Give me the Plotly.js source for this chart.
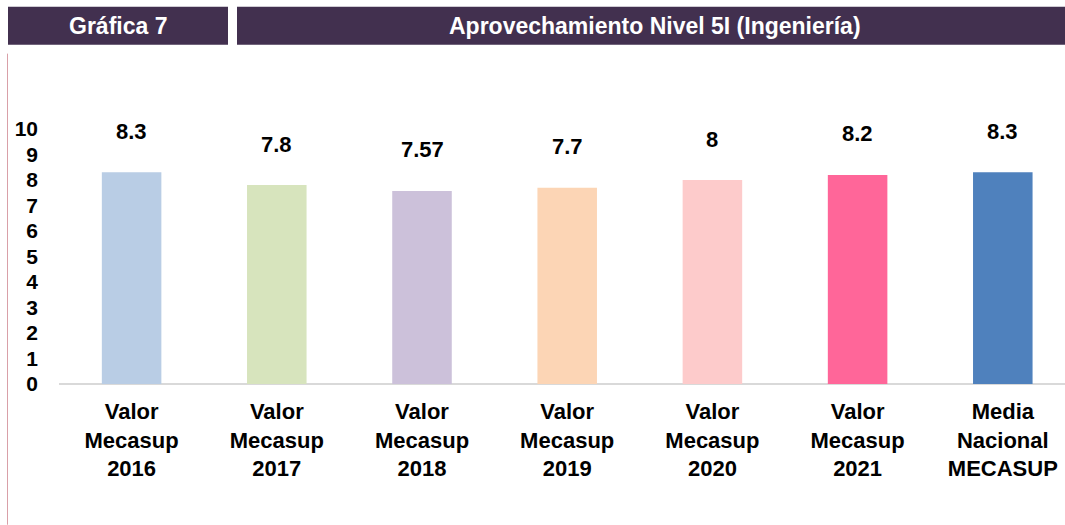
<!DOCTYPE html>
<html>
<head>
<meta charset="utf-8">
<script src="https://cdn.plot.ly/plotly-3.0.1.min.js"></script>
<style>html,body{margin:0;padding:0;background:#fff;}#chart{width:1065px;height:525px;}</style>
</head>
<body>
<div id="chart"></div>
<script>
const categories = ["Valor<br>Mecasup<br>2016","Valor<br>Mecasup<br>2017","Valor<br>Mecasup<br>2018","Valor<br>Mecasup<br>2019","Valor<br>Mecasup<br>2020","Valor<br>Mecasup<br>2021","Media<br>Nacional<br>MECASUP"];
const values = [8.3, 7.8, 7.57, 7.7, 8, 8.2, 8.3];
const valueLabels = ["8.3","7.8","7.57","7.7","8","8.2","8.3"];
const barColors = ["#b9cde5","#d7e4bd","#ccc1da","#fcd5b5","#fdcbcb","#ff6699","#4f81bd"];
const yTicks = [0,1,2,3,4,5,6,7,8,9,10];
const headerLeft = "Gráfica 7";
const headerRight = "Aprovechamiento Nivel 5I (Ingeniería)";

const W = 1065, H = 525;
const M = {l: 59, r: 0, t: 128.5, b: 141};
const pw = W - M.l - M.r, ph = H - M.t - M.b;
const px = x => (x - M.l) / pw;
const py = y => (H - M.b - y) / ph;

const xIdx = categories.map((_, i) => i);
const font = "Liberation Sans, Arial, sans-serif";
const hdr = "#42304f";

const shapes = [
  {type:"rect", xref:"paper", yref:"paper", x0:px(8), x1:px(228), y0:py(44), y1:py(6), fillcolor:hdr, line:{width:0}, layer:"below"},
  {type:"rect", xref:"paper", yref:"paper", x0:px(237), x1:px(1065), y0:py(44), y1:py(6), fillcolor:hdr, line:{width:0}, layer:"below"},
  {type:"line", xref:"paper", yref:"paper", x0:px(7.5), x1:px(7.5), y0:py(53), y1:py(525), line:{color:"#d9a0a8", width:1}}
];

const annotations = [
  {xref:"paper", yref:"paper", x:px(118), y:py(25), text:"<b>"+headerLeft+"</b>", showarrow:false, font:{family:font, size:23, color:"#ffffff"}, xanchor:"center", yanchor:"middle"},
  {xref:"paper", yref:"paper", x:px(655), y:py(25), text:"<b>"+headerRight+"</b>", showarrow:false, font:{family:font, size:23, color:"#ffffff"}, xanchor:"center", yanchor:"middle"}
].concat(values.map((v, i) => ({
  x: xIdx[i], y: v, xref:"x", yref:"y", text:"<b>"+valueLabels[i]+"</b>", showarrow:false,
  yshift: 41, font:{family:font, size:22, color:"#000"}, xanchor:"center", yanchor:"middle"
})));

const trace = {
  type:"bar", x:xIdx, y:values, width:0.41,
  marker:{color:barColors, line:{width:0}},
  hoverinfo:"none"
};

const layout = {
  width:W, height:H, margin:M,
  paper_bgcolor:"#ffffff", plot_bgcolor:"#ffffff",
  showlegend:false,
  xaxis:{
    range:[-0.5, -0.5 + pw/145.2], tickmode:"array", tickvals:xIdx, ticktext:categories.map(c=>"<b>"+c+"</b>"),
    showgrid:false, zeroline:false, showline:false, ticks:"",
    tickfont:{family:font, size:22, color:"#000"}, ticklabelstandoff:12, fixedrange:true
  },
  yaxis:{
    range:[0,10], tickmode:"array", tickvals:yTicks, ticktext:yTicks.map(t=>"<b>"+t+"</b>"),
    showgrid:false, zeroline:true, zerolinecolor:"#d9d9d9", zerolinewidth:2, showline:false, ticks:"",
    tickfont:{family:font, size:21, color:"#000"}, ticklabelstandoff:20, fixedrange:true
  },
  shapes:shapes, annotations:annotations
};

Plotly.newPlot("chart", [trace], layout, {displayModeBar:false, staticPlot:true});
</script>
</body>
</html>
